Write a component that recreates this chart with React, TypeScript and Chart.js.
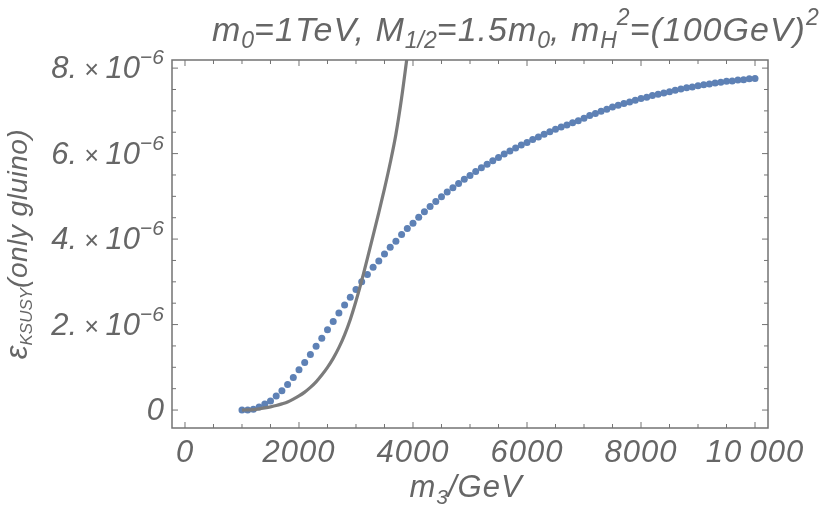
import { useEffect, useRef } from "react";
import { Chart, registerables } from "chart.js";

Chart.register(...registerables);

// m3 in GeV, epsilon in units of 1e-6
const dotMass = [
  1000, 1100, 1200, 1300, 1400, 1500, 1600, 1700, 1800, 1900,
  2000, 2100, 2200, 2300, 2400, 2500, 2600, 2700, 2800, 2900,
  3000, 3100, 3200, 3300, 3400, 3500, 3600, 3700, 3800, 3900,
  4000, 4100, 4200, 4300, 4400, 4500, 4600, 4700, 4800, 4900,
  5000, 5100, 5200, 5300, 5400, 5500, 5600, 5700, 5800, 5900,
  6000, 6100, 6200, 6300, 6400, 6500, 6600, 6700, 6800, 6900,
  7000, 7100, 7200, 7300, 7400, 7500, 7600, 7700, 7800, 7900,
  8000, 8100, 8200, 8300, 8400, 8500, 8600, 8700, 8800, 8900,
  9000, 9100, 9200, 9300, 9400, 9500, 9600, 9700, 9800, 9900,
  10000,
];
const dotEps = [
  0, 0, 0.02, 0.07, 0.14, 0.21, 0.33, 0.45, 0.6, 0.76,
  0.94, 1.11, 1.3, 1.49, 1.68, 1.88, 2.07, 2.27, 2.46, 2.64,
  2.82, 3.0, 3.17, 3.34, 3.49, 3.65, 3.81, 3.95, 4.11, 4.25,
  4.37, 4.51, 4.64, 4.76, 4.88, 4.99, 5.1, 5.2, 5.3, 5.4,
  5.49, 5.58, 5.67, 5.75, 5.83, 5.91, 5.99, 6.06, 6.13, 6.2,
  6.26, 6.33, 6.39, 6.45, 6.51, 6.57, 6.62, 6.67, 6.72, 6.77,
  6.83, 6.89, 6.94, 6.99, 7.04, 7.09, 7.13, 7.17, 7.21, 7.25,
  7.29, 7.32, 7.36, 7.39, 7.42, 7.45, 7.48, 7.51, 7.54, 7.56,
  7.59, 7.61, 7.63, 7.65, 7.67, 7.69, 7.7, 7.72, 7.73, 7.75,
  7.76,
];

const lineMass = [
  1000, 1100, 1200, 1300, 1400, 1500, 1600, 1700, 1800, 1900,
  2000, 2100, 2200, 2300, 2400, 2500, 2600, 2700, 2800, 2900,
  3000, 3100, 3200, 3300, 3400, 3500, 3600, 3700, 3800, 3900,
];
const lineEps = [
  0, 0.003, 0.012, 0.028, 0.05, 0.075, 0.105, 0.145, 0.19, 0.255,
  0.33, 0.42, 0.53, 0.66, 0.82, 1.0, 1.21, 1.46, 1.76, 2.12,
  2.55, 3.03, 3.55, 4.08, 4.62, 5.18, 5.78, 6.45, 7.3, 8.3,
];

const xTicks = [0, 2000, 4000, 6000, 8000, 10000];
const xTickLabels = ["0", "2000", "4000", "6000", "8000", "10\u2009000"];
const yTicks = [0, 2, 4, 6, 8];
const yTickLabels = ["0", "2.", "4.", "6.", "8."];

const FONT = '"Liberation Sans", Arial, sans-serif';
const TEXT = "#666666";
const FRAME = "#737373";

type Part = { t: string; size: number; dy?: number; sp?: number };

const setFont = (ctx: CanvasRenderingContext2D, p: Part) => {
  ctx.font = `italic ${p.size}px ${FONT}`;
  (ctx as any).letterSpacing = `${p.sp ?? 0}px`;
};

const drawRich = (
  ctx: CanvasRenderingContext2D,
  parts: Part[],
  x: number,
  y: number,
  align: "left" | "center" | "right"
) => {
  let w = 0;
  for (const p of parts) {
    setFont(ctx, p);
    w += ctx.measureText(p.t).width;
  }
  let cx = align === "left" ? x : align === "center" ? x - w / 2 : x - w;
  ctx.textAlign = "left";
  ctx.textBaseline = "alphabetic";
  for (const p of parts) {
    setFont(ctx, p);
    ctx.fillText(p.t, cx, y + (p.dy ?? 0));
    cx += ctx.measureText(p.t).width;
  }
};

const TICK = 31;
const TICK_SUP = 21;
const TITLE = 34;
const TITLE_SMALL = 23;

const titleParts: Part[] = [
  { t: "m", size: TITLE, sp: 1 },
  { t: "0", size: TITLE_SMALL, dy: 7 },
  { t: "=1TeV, M", size: TITLE, sp: 1 },
  { t: "1/2", size: TITLE_SMALL, dy: 7 },
  { t: "=1.5m", size: TITLE, sp: 1 },
  { t: "0", size: TITLE_SMALL, dy: 7 },
  { t: ", m", size: TITLE, sp: 1 },
  { t: "H", size: TITLE_SMALL, dy: 7 },
  { t: "2", size: TITLE_SMALL, dy: -16 },
  { t: "=(100GeV)", size: TITLE, sp: 1 },
  { t: "2", size: TITLE_SMALL, dy: -16 },
];

const xLabelParts: Part[] = [
  { t: "m", size: TICK, sp: 1 },
  { t: "3", size: TICK_SUP, dy: 7 },
  { t: "/GeV", size: TICK, sp: 1 },
];

const yLabelParts: Part[] = [
  { t: "\u03B5", size: 31 },
  { t: "KSUSY", size: 17, dy: 5 },
  { t: "(only gluino)", size: 28, sp: 0.5 },
];

const framePlugin = {
  id: "mmaFrame",
  afterDraw(chart: Chart) {
    const { ctx, chartArea: a, scales } = chart;
    const xs = scales.x;
    const ys = scales.y;
    ctx.save();

    // frame
    ctx.strokeStyle = FRAME;
    ctx.lineWidth = 1.5;
    ctx.strokeRect(a.left, a.top, a.right - a.left, a.bottom - a.top);

    // ticks, four minor steps per labelled interval
    ctx.lineWidth = 1;
    for (let i = 0; i < xTicks.length; i++) {
      for (let k = 0; k < 4; k++) {
        if (k > 0 && i === xTicks.length - 1) break;
        const v = xTicks[i] + (k * (xTicks[1] - xTicks[0])) / 4;
        const px = xs.getPixelForValue(v);
        const len = k === 0 ? 6 : 4;
        ctx.beginPath();
        ctx.moveTo(px, a.bottom);
        ctx.lineTo(px, a.bottom - len);
        ctx.moveTo(px, a.top);
        ctx.lineTo(px, a.top + len);
        ctx.stroke();
      }
    }
    for (let i = 0; i < yTicks.length; i++) {
      for (let k = 0; k < 4; k++) {
        if (k > 0 && i === yTicks.length - 1) break;
        const v = yTicks[i] + (k * (yTicks[1] - yTicks[0])) / 4;
        const py = ys.getPixelForValue(v);
        const len = k === 0 ? 6 : 4;
        ctx.beginPath();
        ctx.moveTo(a.left, py);
        ctx.lineTo(a.left + len, py);
        ctx.moveTo(a.right, py);
        ctx.lineTo(a.right - len, py);
        ctx.stroke();
      }
    }

    ctx.fillStyle = TEXT;

    // x tick labels
    xTicks.forEach((v, i) => {
      drawRich(ctx, [{ t: xTickLabels[i], size: TICK, sp: 1 }], xs.getPixelForValue(v), a.bottom + 34, "center");
    });

    // y tick labels
    yTicks.forEach((v, i) => {
      const py = ys.getPixelForValue(v) + 10;
      const parts: Part[] =
        v === 0
          ? [{ t: yTickLabels[i], size: TICK }]
          : [
              { t: yTickLabels[i], size: TICK },
              { t: " \u00D7 ", size: 25 },
              { t: "10", size: TICK },
              { t: "\u22126", size: TICK_SUP, dy: -14 },
            ];
      drawRich(ctx, parts, a.left - 8, py, "right");
    });

    // title
    drawRich(ctx, titleParts, 212, 41, "left");

    // x axis label
    drawRich(ctx, xLabelParts, (a.left + a.right) / 2 - 4, 497, "center");

    // y axis label
    ctx.save();
    ctx.translate(27, (a.top + a.bottom) / 2);
    ctx.rotate(-Math.PI / 2);
    drawRich(ctx, yLabelParts, 0, 0, "center");
    ctx.restore();

    ctx.restore();
  },
};

const EpsilonChart = () => {
  const chartRef = useRef<HTMLCanvasElement | null>(null);
  const chartInstanceRef = useRef<Chart | null>(null);

  useEffect(() => {
    if (!chartRef.current) return;
    const ctx = chartRef.current.getContext("2d");
    if (!ctx) return;
    if (chartInstanceRef.current) chartInstanceRef.current.destroy();

    chartInstanceRef.current = new Chart(ctx, {
      type: "scatter",
      data: {
        datasets: [
          {
            type: "line",
            label: "approx",
            data: lineMass.map((m, i) => ({ x: m, y: lineEps[i] })),
            borderColor: "#7b7b7b",
            borderWidth: 3.2,
            pointRadius: 0,
            cubicInterpolationMode: "monotone",
            fill: false,
            order: 0,
          },
          {
            type: "scatter",
            label: "epsilon",
            data: dotMass.map((m, i) => ({ x: m, y: dotEps[i] })),
            backgroundColor: "#5E81B5",
            borderWidth: 0,
            pointRadius: 3.5,
            order: 1,
          },
        ],
      },
      options: {
        responsive: false,
        animation: false,
        layout: { padding: { left: 172, right: 62, top: 60, bottom: 84 } },
        plugins: {
          legend: { display: false },
          tooltip: { enabled: false },
          title: { display: false },
        },
        scales: {
          x: { type: "linear", min: -228, max: 10228, display: false },
          y: { type: "linear", min: -0.42, max: 8.19, display: false },
        },
      },
      plugins: [framePlugin],
    });

    return () => {
      if (chartInstanceRef.current) {
        chartInstanceRef.current.destroy();
        chartInstanceRef.current = null;
      }
    };
  }, []);

  return (
    <div style={{ position: "absolute", left: 0, top: 0, width: 830, height: 512, background: "#fff" }}>
      <canvas ref={chartRef} width={830} height={512} style={{ display: "block" }} />
    </div>
  );
};

export default function App() {
  return <EpsilonChart />;
}
